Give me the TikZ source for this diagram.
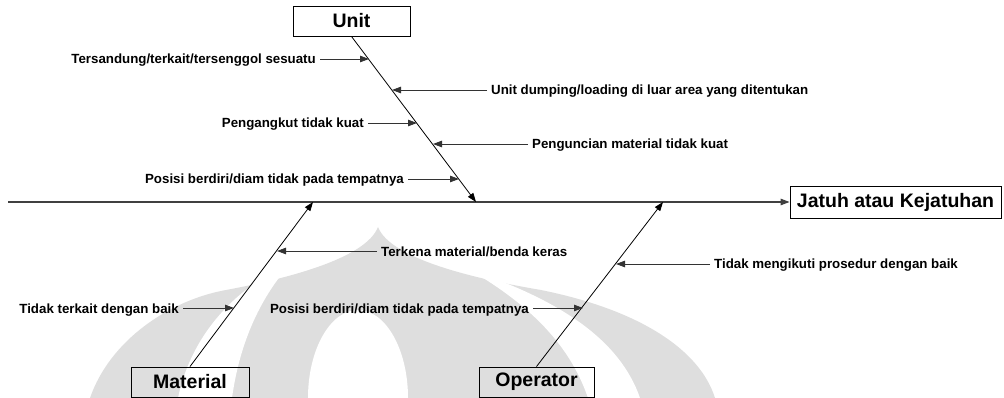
\documentclass[tikz,border=0pt]{standalone}
\usepackage{fontspec}
\setmainfont{Liberation Sans}
\usetikzlibrary{arrows.meta,calc}
\definecolor{wm}{gray}{0.87}
\begin{document}
\begin{tikzpicture}[x=1pt,y=-1pt,
  box/.style={draw=black,line width=0.9pt,font=\fontsize{19.5}{22}\selectfont\bfseries,inner sep=0pt},
  lbl/.style={font=\fontsize{13.3}{15}\selectfont\bfseries,inner xsep=4pt,inner ysep=0pt,text height=10pt,text depth=0pt},
  bone/.style={line width=0.8pt,draw=black,-{Triangle[length=9pt,width=6.5pt]}},
  cause/.style={line width=0.8pt,draw=black!80,-{Triangle[length=9pt,width=6.5pt]}},
  spine/.style={line width=1.2pt,draw=black!75,-{Triangle[length=9pt,width=6.5pt]}}]
\useasboundingbox (0,0) rectangle (1004,398);
% watermark
\fill[wm] (378,227) .. controls (390,258) and (470,278) .. (541,290) .. controls (640,310) and (700,350) .. (715,398) -- (90,398) .. controls (110,340) and (170,300) .. (226,290) .. controls (290,278) and (366,258) .. cycle;
\fill[white] (292,262) .. controls (230,290) and (190,340) .. (178,398) -- (232,398) .. controls (240,340) and (262,295) .. cycle;
\fill[white] (470,270) .. controls (560,300) and (620,340) .. (640,398) -- (588,398) .. controls (570,345) and (530,305) .. cycle;
\fill[white] (358,398) ellipse [x radius=50, y radius=88];
% boxes
\node[box,minimum width=117pt,minimum height=30pt] (unit) at (351.5,21) {Unit};
\node[box,minimum width=211pt,minimum height=32pt] (effect) at (895.5,202) {Jatuh atau Kejatuhan};
\node[box,minimum width=118pt,minimum height=30pt] (material) at (190,382) {Material};
\node[box,minimum width=115pt,minimum height=30pt] (operator) at (536.5,382) {Operator};
% spine and bones
\coordinate (start) at (8,202);
\coordinate (uj) at (476,202);
\coordinate (mj) at (313,202);
\coordinate (oj) at (663,202);
\draw[spine] (start) -- (effect.west);
\draw[bone] (unit.south) -- (uj);
\draw[bone] (material.north) -- (mj);
\draw[bone] (operator.north) -- (oj);
% points on bones
\coordinate (u1) at (369,59);
\coordinate (u2) at (392,90);
\coordinate (u3) at (417,123);
\coordinate (u4) at (433,144);
\coordinate (u5) at (459,179);
\coordinate (m1) at (277,251);
\coordinate (m2) at (234,308);
\coordinate (o1) at (616,264);
\coordinate (o2) at (583,308);
% causes
\node[lbl,anchor=east] (c1) at (320,59) {Tersandung/terkait/tersenggol sesuatu};
\node[lbl,anchor=west] (c2) at (487,90) {Unit dumping/loading di luar area yang ditentukan};
\node[lbl,anchor=east] (c3) at (368,123) {Pengangkut tidak kuat};
\node[lbl,anchor=west] (c4) at (528,144) {Penguncian material tidak kuat};
\node[lbl,anchor=east] (c5) at (408,179) {Posisi berdiri/diam tidak pada tempatnya};
\node[lbl,anchor=west] (c6) at (377,251) {Terkena material/benda keras};
\node[lbl,anchor=east] (c7) at (183,308) {Tidak terkait dengan baik};
\node[lbl,anchor=west] (c8) at (710,264) {Tidak mengikuti prosedur dengan baik};
\node[lbl,anchor=east] (c9) at (533,308) {Posisi berdiri/diam tidak pada tempatnya};
\draw[cause] (c1) -- (u1);
\draw[cause] (c2) -- (u2);
\draw[cause] (c3) -- (u3);
\draw[cause] (c4) -- (u4);
\draw[cause] (c5) -- (u5);
\draw[cause] (c6) -- (m1);
\draw[cause] (c7) -- (m2);
\draw[cause] (c8) -- (o1);
\draw[cause] (c9) -- (o2);
\end{tikzpicture}
\end{document}
